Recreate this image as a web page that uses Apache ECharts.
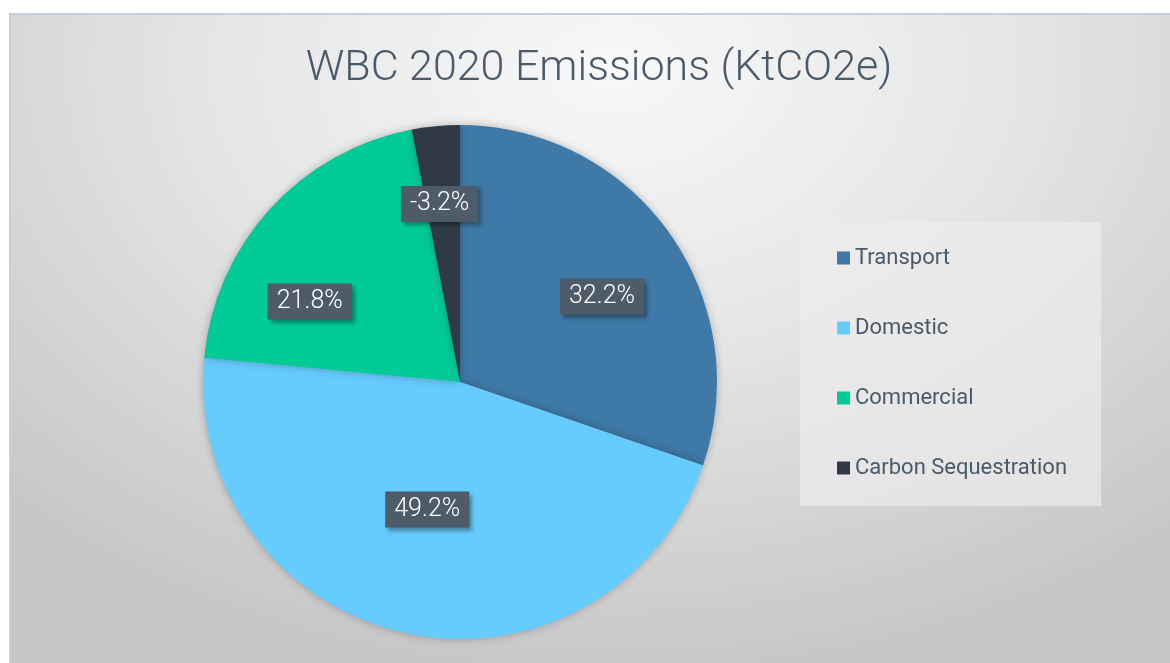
<!DOCTYPE html>
<html>
<head>
<meta charset="utf-8">
<script src="https://cdn.jsdelivr.net/npm/echarts@6/dist/echarts.min.js"></script>
<style>
  html, body { margin: 0; padding: 0; background: #fff; }
  #chart {
    position: absolute; left: 9px; top: 13px; width: 1161px; height: 650px;
    border-top: 2px solid #c5d0da; border-left: 2px solid #c5d0da;
    box-sizing: border-box;
    background: radial-gradient(ellipse 75% 95% at 52% 8%, #f8f8f8 0%, #e6e6e6 45%, #c6c6c6 100%);
  }
</style>
</head>
<body>
<div id="chart"></div>
<script>
// sectors and their signed shares (%) as printed on the slices
const sectors = ['Transport', 'Domestic', 'Commercial', 'Carbon Sequestration']
const shares = [32.2, 49.2, 21.8, -3.2]
const colors = ['#3e79a7', '#66cbff', '#00cb96', '#2f3a46']

// nudges so the labels sit roughly where excel put them
const labelOffsets = [[35, -9], [-5, -1], [-53, 8], [-8, -47]]

let chart = echarts.init(document.getElementById('chart'))

let pie_data = sectors.map((name, i) => {
    return {
        name: name,
        value: Math.abs(shares[i]),//slice size uses the magnitude
        itemStyle: { color: colors[i] },
        label: { offset: labelOffsets[i] }
    }
})

let option = {
    animation: false,
    title: {
        text: 'WBC 2020 Emissions (KtCO2e)',
        left: 583,
        top: 28,
        textAlign: 'center',
        textStyle: {
            fontFamily: 'Roboto',
            fontWeight: 300,
            fontSize: 43,
            color: '#4a5a6a'
        }
    },
    legend: {
        orient: 'vertical',
        left: 789,
        top: 207,
        padding: [24, 34, 26, 37],
        backgroundColor: 'rgba(236,236,236,0.7)',
        itemWidth: 13,
        itemHeight: 13,
        itemGap: 46,
        icon: 'rect',
        selectedMode: false,
        textStyle: {
            fontFamily: 'Roboto',
            fontSize: 22,
            lineHeight: 24,
            color: '#4a5a6a'
        },
        data: sectors
    },
    series: [
        {
            type: 'pie',
            center: [449, 367],
            radius: 257,
            startAngle: 90,
            clockwise: true,
            emphasis: { disabled: true },
            itemStyle: {
                shadowBlur: 8,
                shadowColor: 'rgba(0,0,0,0.25)'
            },
            label: {
                position: 'inside',
                formatter: (p) => shares[p.dataIndex].toFixed(1) + '%',
                fontFamily: 'Roboto',
                fontWeight: 300,
                fontSize: 25,
                color: '#ffffff',
                backgroundColor: '#4e5b69',
                padding: [6, 9, 5, 9],
                shadowBlur: 4,
                shadowOffsetX: 3,
                shadowOffsetY: 3,
                shadowColor: 'rgba(0,0,0,0.35)'
            },
            labelLine: { show: false },
            data: pie_data
        }
    ]
}
chart.setOption(option)
</script>
</body>
</html>
